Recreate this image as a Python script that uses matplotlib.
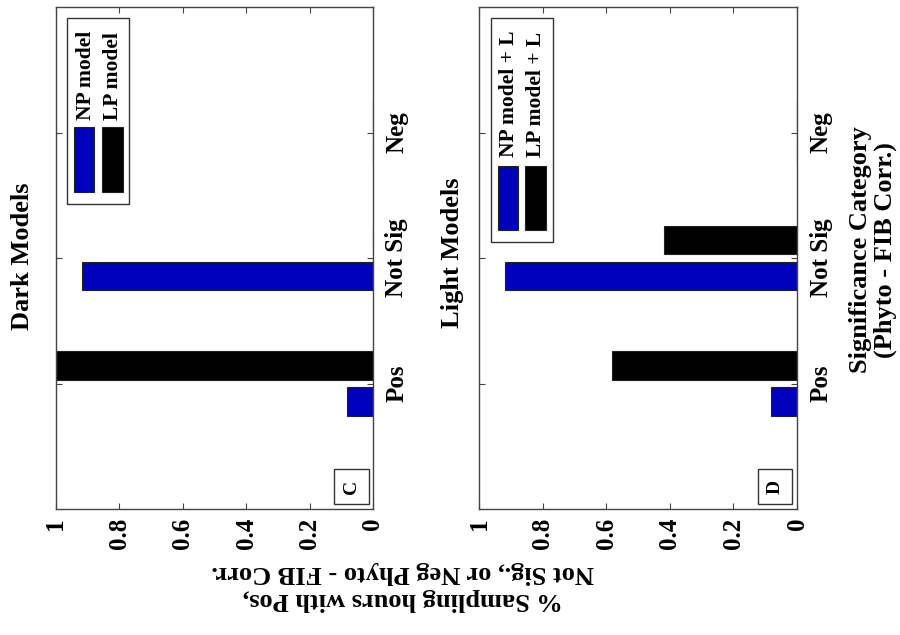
import numpy as np
import matplotlib.pyplot as plt
from matplotlib.patches import Rectangle

# data (fraction of sampling hours per significance category)
categories = ["Pos", "Not Sig", "Neg"]
dark_np = [0.082, 0.918, 0.0]
dark_lp = [1.0, 0.0, 0.0]
light_np = [0.083, 0.917, 0.0]
light_lp = [0.583, 0.417, 0.0]
dark_labels = ["NP model", "LP model"]
light_labels = ["NP model + L", "LP model + L"]
value_ticks = [0, 0.2, 0.4, 0.6, 0.8, 1]
value_ticklabels = ["0", "0.2", "0.4", "0.6", "0.8", "1"]

BLUE = "#0000bf"
W, H = 900, 635

plt.rcParams["font.family"] = ["Liberation Serif", "DejaVu Serif"]
plt.rcParams["font.weight"] = "bold"

fig = plt.figure(figsize=(9, 6.35), dpi=100)


def px(x, y):
    # pixel position (from top-left) -> figure fraction
    return x / W, 1 - y / H


def make_panel(left, right, top, bottom, np_vals, lp_vals):
    x0, y0 = px(left, bottom)
    ax = fig.add_axes([x0, y0, (right - left) / W, (bottom - top) / H])
    pos = np.arange(1, len(categories) + 1)
    ax.barh(pos - 0.143, np_vals, height=0.23, color=BLUE, edgecolor="#222222", linewidth=0.8)
    ax.barh(pos + 0.143, lp_vals, height=0.23, color="black", edgecolor="#222222", linewidth=0.8)
    ax.set_xlim(1, 0)
    ax.set_ylim(0, 4)
    ax.set_xticks(value_ticks)
    ax.set_xticklabels(value_ticklabels, rotation=90, va="top", ha="center", fontsize=18)
    ax.set_yticks(pos)
    ax.set_yticklabels(categories, rotation=90, va="center", fontsize=18)
    ax.tick_params(direction="in", length=4.5, width=0.8, color="#444444",
                   top=True, bottom=True, left=True, right=True,
                   labelleft=False, labelright=True)
    ax.tick_params(axis="x", pad=6)
    ax.tick_params(axis="y", pad=9)
    for s in ax.spines.values():
        s.set_color("#444444")
        s.set_linewidth(1.0)
    return ax


def legend_box(box, patches, texts, text_bottom, labels):
    bx0, by0, bx1, by1 = box
    x, y = px(bx0, by1)
    fig.patches.append(Rectangle((x, y), (bx1 - bx0) / W, (by1 - by0) / H,
                                 transform=fig.transFigure, facecolor="white",
                                 edgecolor="#333333", linewidth=1.0, zorder=5))
    for (p0, p1, q0, q1), c in zip(patches, [BLUE, "black"]):
        x, y = px(p0, q1)
        fig.patches.append(Rectangle((x, y), (p1 - p0) / W, (q1 - q0) / H,
                                     transform=fig.transFigure, facecolor=c,
                                     edgecolor="#222222", linewidth=0.8, zorder=6))
    for tx, lab in zip(texts, labels):
        x, y = px(tx, text_bottom)
        fig.text(x, y, lab, rotation=90, ha="center", va="bottom",
                 fontsize=15.5, fontweight="bold", zorder=7)


def panel_tag(box, letter):
    bx0, by0, bx1, by1 = box
    x, y = px(bx0, by1)
    fig.patches.append(Rectangle((x, y), (bx1 - bx0) / W, (by1 - by0) / H,
                                 transform=fig.transFigure, facecolor="white",
                                 edgecolor="#333333", linewidth=1.0, zorder=5))
    cx, cy = px((bx0 + bx1) / 2, (by0 + by1) / 2)
    fig.text(cx, cy, letter, rotation=90, ha="center", va="center",
             fontsize=14, fontweight="bold", zorder=7)


# panel C - dark models
axC = make_panel(56, 373, 7, 509, dark_np, dark_lp)
# panel D - light models
axD = make_panel(479, 797, 7, 509, light_np, light_lp)

legend_box((67, 18, 129, 204), [(74, 94, 127, 192), (102, 123, 127, 192)],
           [86, 113], 120, dark_labels)
legend_box((491, 18, 553, 242), [(498, 518, 166, 230), (525, 546, 166, 230)],
           [509, 536], 157, light_labels)

panel_tag((334, 469, 369, 504), "C")
panel_tag((758, 469, 792, 504), "D")

# titles
fig.text(*px(23, 256), "Dark Models", rotation=90, ha="center", va="center",
         fontsize=19, fontweight="bold")
fig.text(*px(452, 253), "Light Models", rotation=90, ha="center", va="center",
         fontsize=19, fontweight="bold")

# category axis label
fig.text(*px(873, 250), "Significance Category\n(Phyto - FIB Corr.)", rotation=90,
         ha="center", va="center", fontsize=19, fontweight="bold", linespacing=1.12)

# value axis label
fig.text(*px(403, 586), "% Sampling hours with Pos,\nNot Sig., or Neg Phyto - FIB Corr.",
         rotation=180, ha="center", va="center", fontsize=19, fontweight="bold",
         linespacing=1.18)

fig.savefig("out.png", dpi=100)
